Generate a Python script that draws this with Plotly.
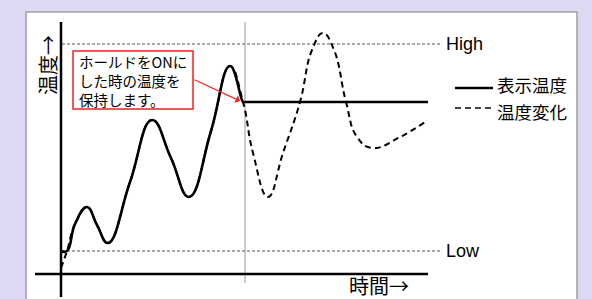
import plotly.graph_objects as go

# ---- data (time units / temperature units) ----
display_time = [0, 6, 14, 26, 36, 47, 69, 91, 110, 128, 150, 169, 182, 183, 367]
display_temp = [23, 23, 50, 67, 49, 31, 92, 154, 116, 77, 143, 208, 172, 172, 172]

change_time = [0, 6, 14, 26, 36, 47, 69, 91, 110, 128, 150, 169, 182,
               192, 207, 222, 239, 251, 262, 273, 285, 296, 311, 339, 364]
change_temp = [6, 23, 50, 67, 49, 31, 92, 154, 116, 77, 143, 208, 172,
               121, 77, 121, 172, 224, 241, 224, 172, 137, 126, 137, 152]

T_HIGH = 230
T_LOW = 23
HOLD_TIME = 184
TIME_END = 367
LEVEL_END = 381

series_names = ["表示温度", "温度変化"]
level_labels = ["High", "Low"]
axis_labels = ["温度→", "時間→"]
note_lines = ["ホールドをONに", "した時の温度を", "保持します。"]

CJK = "Noto Sans CJK JP"
LAT = "Liberation Sans, Arial"

fig = go.Figure()

# temperature change (dashed)
fig.add_trace(go.Scatter(x=change_time, y=change_temp, mode="lines",
                         line=dict(color="black", width=2, dash="6px,4px", shape="spline", smoothing=1.3),
                         name=series_names[1], hoverinfo="skip"))
# displayed temperature (solid)
fig.add_trace(go.Scatter(x=display_time, y=display_temp, mode="lines",
                         line=dict(color="black", width=2.6, shape="spline", smoothing=1.3),
                         name=series_names[0], hoverinfo="skip"))

shapes = []
# white panel
shapes.append(dict(type="rect", xref="x", yref="y", x0=-35, x1=516, y0=262, y1=-40,
                   fillcolor="white", line=dict(color="#a0a0a0", width=1.5), layer="below"))
# hold time marker
shapes.append(dict(type="line", xref="x", yref="y", x0=HOLD_TIME, x1=HOLD_TIME, y0=-9, y1=252,
                   line=dict(color="#9a9a9a", width=1), layer="below"))
# High / Low levels
for lv in (T_HIGH, T_LOW):
    shapes.append(dict(type="line", xref="x", yref="y", x0=1, x1=LEVEL_END, y0=lv, y1=lv,
                       line=dict(color="#555555", width=1, dash="3px,2px"), layer="below"))
# axes
shapes.append(dict(type="line", xref="x", yref="y", x0=0, x1=0, y0=-23, y1=252,
                   line=dict(color="black", width=2.5)))
shapes.append(dict(type="line", xref="x", yref="y", x0=-26, x1=TIME_END, y0=0, y1=0,
                   line=dict(color="black", width=2.5)))
# legend samples
shapes.append(dict(type="line", xref="x", yref="y", x0=394, x1=432, y0=186, y1=186,
                   line=dict(color="black", width=2.5)))
shapes.append(dict(type="line", xref="x", yref="y", x0=394, x1=432, y0=166, y1=166,
                   line=dict(color="black", width=1.5, dash="6px,4px")))
# note box
shapes.append(dict(type="rect", xref="x", yref="y", x0=12, x1=132, y0=223, y1=165,
                   fillcolor="white", line=dict(color="#ee2222", width=1.5)))

annotations = []
annotations.append(dict(x=383, y=T_HIGH, text=level_labels[0], showarrow=False, xanchor="left",
                        yanchor="middle", font=dict(family=LAT, size=18, color="black")))
annotations.append(dict(x=383, y=T_LOW, text=level_labels[1], showarrow=False, xanchor="left",
                        yanchor="middle", font=dict(family=LAT, size=18, color="black")))
annotations.append(dict(x=434, y=186, text=series_names[0], showarrow=False, xanchor="left",
                        yanchor="bottom", yshift=-11, font=dict(family=CJK, size=17.5, color="black")))
annotations.append(dict(x=434, y=166, text=series_names[1], showarrow=False, xanchor="left",
                        yanchor="top", yshift=11, font=dict(family=CJK, size=17.5, color="black")))
annotations.append(dict(x=-14, y=209, text=axis_labels[0], showarrow=False, textangle=-90,
                        xanchor="center", yanchor="middle", font=dict(family=CJK, size=20, color="black")))
annotations.append(dict(x=318, y=-11, text=axis_labels[1], showarrow=False,
                        xanchor="center", yanchor="middle", font=dict(family=CJK, size=20, color="black")))
annotations.append(dict(x=72, y=194, text="<br>".join(note_lines), showarrow=False, align="left",
                        xanchor="center", yanchor="middle", font=dict(family=CJK, size=14.5, color="black")))
annotations.append(dict(x=179, y=173, ax=132, ay=195, axref="x", ayref="y", text="",
                        showarrow=True, arrowhead=1, arrowsize=1.2, arrowwidth=1.2, arrowcolor="#ee2222"))

fig.update_layout(
    width=592, height=299,
    margin=dict(l=0, r=0, t=0, b=0),
    paper_bgcolor="#dcdaf3", plot_bgcolor="rgba(0,0,0,0)",
    showlegend=False,
    xaxis=dict(range=[-61, 531], visible=False, fixedrange=True),
    yaxis=dict(range=[-25, 274], visible=False, fixedrange=True),
    shapes=shapes, annotations=annotations,
)

fig.write_html("out.html", config={"displayModeBar": False, "staticPlot": True},
               post_script="document.body.style.margin='0';document.body.style.overflow='hidden';")
